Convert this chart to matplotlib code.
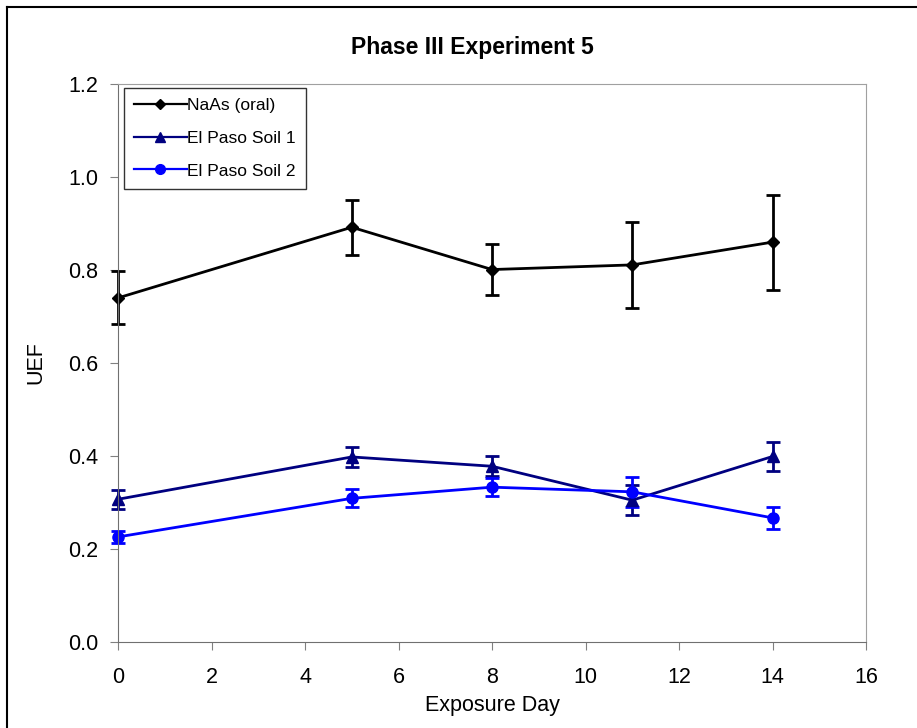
import matplotlib.pyplot as plt
from matplotlib.lines import Line2D

plt.rcParams['font.family'] = ['Liberation Sans', 'DejaVu Sans']

days = [0, 5, 8, 11, 14]

naas = [0.740, 0.892, 0.801, 0.811, 0.860]
naas_err = [0.057, 0.059, 0.054, 0.093, 0.102]

soil1 = [0.307, 0.398, 0.378, 0.305, 0.399]
soil1_err = [0.020, 0.021, 0.022, 0.032, 0.031]

soil2 = [0.226, 0.309, 0.333, 0.323, 0.267]
soil2_err = [0.013, 0.019, 0.020, 0.032, 0.023]

fig = plt.figure(figsize=(9.17, 7.28), dpi=100)
ax = fig.add_axes([0.1287, 0.1181, 0.8157, 0.7665])

# outer chart border (left and top edges visible)
fig.add_artist(Line2D([0.0075, 0.0075], [0, 0.991], color='black', lw=1.5, transform=fig.transFigure))
fig.add_artist(Line2D([0.0075, 1.0], [0.991, 0.991], color='black', lw=1.5, transform=fig.transFigure))

series = [
    (naas, naas_err, 'black', 'D', 6, 'NaAs (oral)'),
    (soil1, soil1_err, '#000080', '^', 8, 'El Paso Soil 1'),
    (soil2, soil2_err, '#0000FF', 'o', 8, 'El Paso Soil 2'),
]
handles = []
for vals, errs, col, mk, ms, lab in series:
    eb = ax.errorbar(days, vals, yerr=errs, color=col, marker=mk, markersize=ms,
                     lw=2, elinewidth=2, capsize=5, capthick=2)
    for art in eb.lines[0:1] + eb.lines[1] + eb.lines[2]:
        art.set_clip_on(False)
    handles.append(Line2D([], [], color=col, marker=mk, markersize=ms - 1, lw=1.6, label=lab))

ax.set_xlim(0, 16)
ax.set_ylim(0, 1.2)
ax.set_xticks(range(0, 17, 2))
ax.set_yticks([0, 0.2, 0.4, 0.6, 0.8, 1.0, 1.2])
ax.set_yticklabels([f"{v:.1f}" for v in ax.get_yticks()])
ax.tick_params(direction='out', length=6, color='#808080', labelsize=15.5, pad=8)
ax.tick_params(axis='x', pad=12)

for side in ['top', 'right']:
    ax.spines[side].set_color('#A0A0A0')
for side in ['left', 'bottom']:
    ax.spines[side].set_color('#707070')

fig.text(0.515, 0.935, 'Phase III Experiment 5', fontsize=16.5, fontweight='bold',
         ha='center', va='center')
ax.set_xlabel('Exposure Day', fontsize=15.5, labelpad=5)
ax.set_ylabel('UEF', fontsize=15.5, labelpad=16)

leg = ax.legend(handles=handles, loc='upper left', bbox_to_anchor=(0.008, 0.993),
                fontsize=12.5, frameon=True, fancybox=False, edgecolor='black',
                handlelength=3.0, borderpad=0.6, labelspacing=1.0, handletextpad=0.05,
                borderaxespad=0)
leg.get_frame().set_linewidth(1.0)

plt.savefig('out.png', dpi=100)
